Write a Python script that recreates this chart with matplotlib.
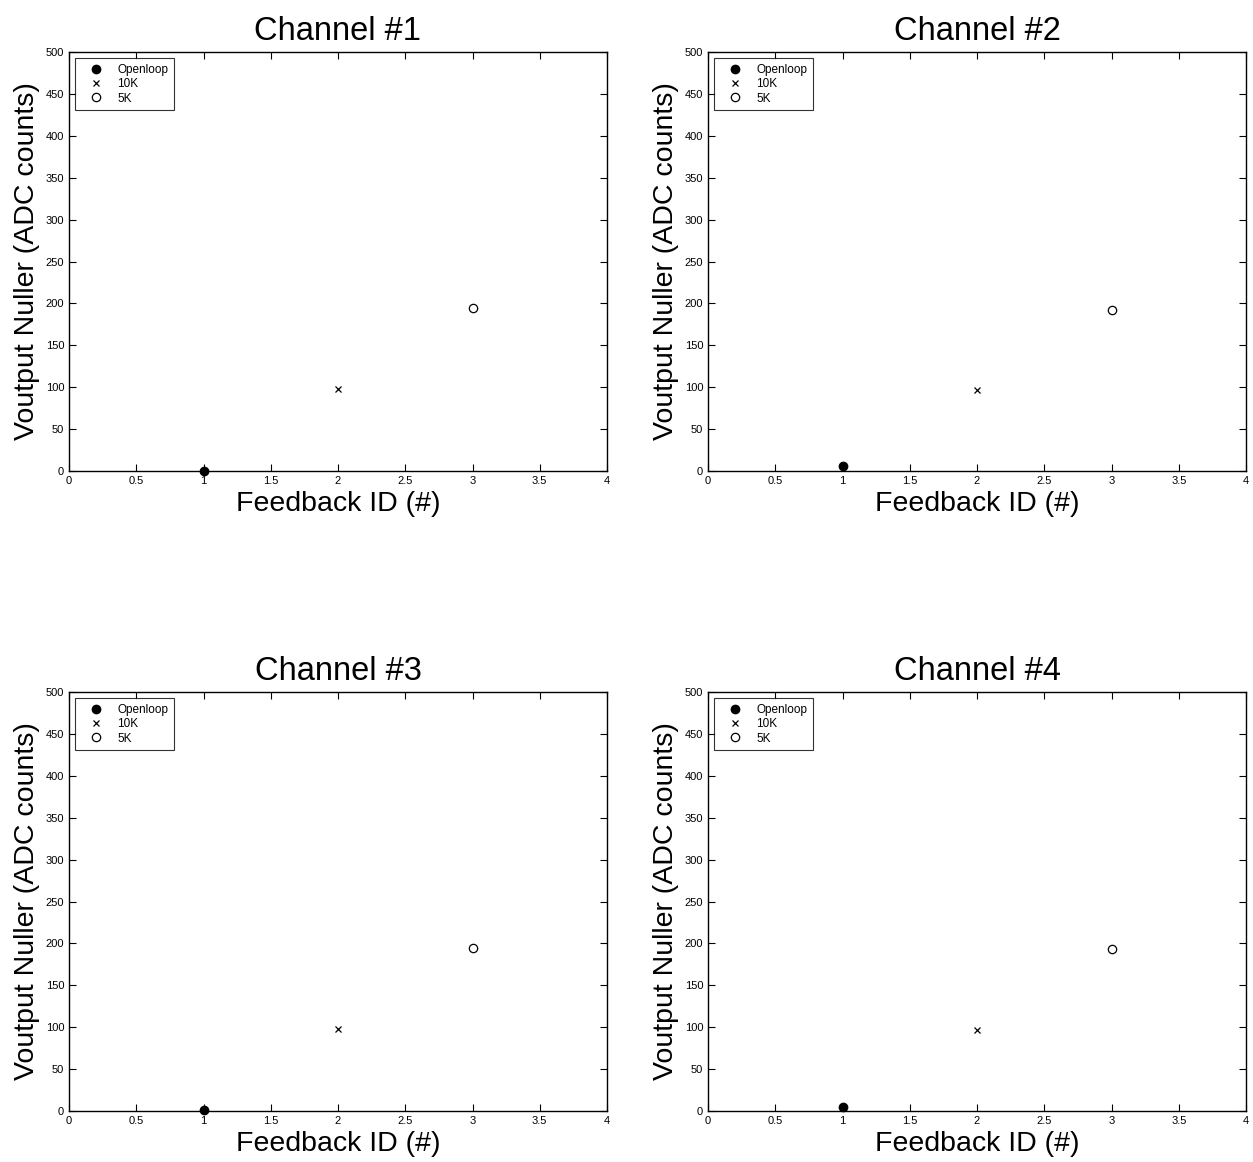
import matplotlib
matplotlib.use("Agg")
import matplotlib.pyplot as plt

plt.rcParams['font.family'] = ['Liberation Sans', 'DejaVu Sans']

channels = ["Channel #1", "Channel #2", "Channel #3", "Channel #4"]
feedback_ids = [1, 2, 3]
openloop = [0, 6, 1, 5]
k10 = [98, 97, 98, 97]
k5 = [194, 192, 194, 193]
xticks = [0, 0.5, 1, 1.5, 2, 2.5, 3, 3.5, 4]
xticklabels = ["0", "0.5", "1", "1.5", "2", "2.5", "3", "3.5", "4"]
yticks = list(range(0, 501, 50))

fig = plt.figure(figsize=(12.53, 11.62), dpi=100)
W, H = 1253, 1162
boxes = [(69, 52), (708, 52), (69, 692), (708, 692)]
aw, ah = 538, 419

for i, (l, t) in enumerate(boxes):
    ax = fig.add_axes([l / W, (H - t - ah) / H, aw / W, ah / H])
    ax.plot(feedback_ids[0], openloop[i], 'o', color='black', markersize=6, label='Openloop', clip_on=False)
    ax.plot(feedback_ids[1], k10[i], 'x', color='black', markersize=4, markeredgewidth=0.9, label='10K')
    ax.plot(feedback_ids[2], k5[i], 'o', markerfacecolor='white', markeredgecolor='black',
            markersize=6, markeredgewidth=0.9, label='5K')
    ax.set_xlim(0, 4)
    ax.set_ylim(0, 500)
    ax.set_xticks(xticks)
    ax.set_xticklabels(xticklabels)
    ax.set_yticks(yticks)
    ax.set_yticklabels([str(v) for v in yticks])
    ax.tick_params(direction='in', top=True, right=True, labelsize=8, length=5, width=0.8, pad=3.5)
    for s in ax.spines.values():
        s.set_linewidth(1.0)
    ax.set_title(channels[i], fontsize=23.5, pad=9)
    ax.set_xlabel("Feedback ID (#)", fontsize=20.5, labelpad=4)
    ax.set_ylabel("Voutput Nuller (ADC counts)", fontsize=20.5, labelpad=4)
    leg = ax.legend(loc='upper left', fontsize=8.5, frameon=True, fancybox=False,
                    edgecolor='black', handlelength=2.6, handletextpad=0.5,
                    borderaxespad=0.5, labelspacing=0.2, borderpad=0.5)
    leg.get_frame().set_linewidth(0.8)

fig.savefig("out.png", dpi=100)
